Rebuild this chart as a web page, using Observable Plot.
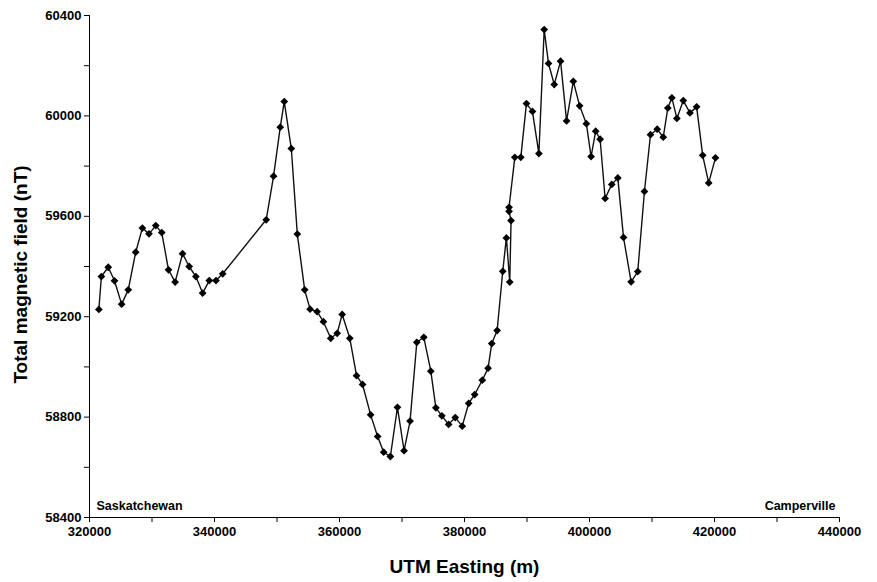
<!DOCTYPE html>
<html>
<head>
<meta charset="utf-8">
<script src="https://cdn.jsdelivr.net/npm/d3@7"></script>
<script src="https://cdn.jsdelivr.net/npm/@observablehq/plot@0.6"></script>
<style>
  html, body { margin: 0; padding: 0; background: #fff; }
  #chart svg { display: block; }
</style>
</head>
<body>
<div id="chart"></div>
<script>
// UTM Easting (m) of each station, in survey order
const easting = [
  321500, 321900, 323000, 324000, 325140, 326200, 327390, 328460, 329520, 330600,
  331560, 332640, 333700, 334890, 335950, 337020, 338100, 339160, 340240, 341310,
  348270, 349450, 350520, 351160, 352290, 353250, 354430, 355290, 356420, 357430,
  358600, 359630, 360430, 361650, 362730, 363690, 364980, 366100, 367070, 368140,
  369270, 370330, 371290, 372370, 373490, 374610, 375420, 376380, 377460, 378520,
  379640, 380670, 381630, 382850, 383770, 384360, 385220, 386120, 386700, 387240,
  387450, 387130, 387130, 388050, 389010, 389910, 390870, 391900, 392750, 393440,
  394360, 395370, 396330, 397410, 398420, 399500, 400250, 400990, 401700, 402500,
  403560, 404530, 405440, 406660, 407720, 408790, 409760, 410830, 411800, 412530,
  413180, 413980, 415010, 416070, 417140, 418110, 419070, 420150
];
// Total magnetic field (nT)
const field = [
  59229, 59360, 59397, 59343, 59250, 59307, 59457, 59553, 59530, 59563,
  59535, 59387, 59338, 59451, 59400, 59360, 59294, 59344, 59344, 59371,
  59586, 59760, 59955, 60057, 59870, 59529, 59307, 59230, 59220, 59180,
  59114, 59134, 59209, 59114, 58965, 58930, 58809, 58723, 58660, 58643,
  58839, 58666, 58784, 59098, 59118, 58983, 58837, 58805, 58771, 58798,
  58764, 58855, 58890, 58947, 58995, 59093, 59145, 59381, 59514, 59338,
  59583, 59620, 59636, 59835, 59835, 60049, 60018, 59850, 60344, 60209,
  60125, 60218, 59980, 60138, 60040, 59969, 59838, 59939, 59907, 59671,
  59727, 59753, 59516, 59339, 59380, 59699, 59925, 59947, 59915, 60031,
  60072, 59990, 60061, 60012, 60036, 59843, 59733, 59833
];
const xTicks = [320000, 330000, 340000, 350000, 360000, 370000, 380000, 390000, 400000, 410000, 420000, 430000, 440000];
const xTickLabels = ["320000", "", "340000", "", "360000", "", "380000", "", "400000", "", "420000", "", "440000"];
const yTicks = [58400, 58600, 58800, 59000, 59200, 59400, 59600, 59800, 60000, 60200, 60400];
const yTickLabels = ["58400", "", "58800", "", "59200", "", "59600", "", "60000", "", "60400"];
const xTitle = "UTM Easting (m)";
const yTitle = "Total magnetic field (nT)";
const leftNote = "Saskatchewan";
const rightNote = "Camperville";

const data = easting.map((x, i) => ({x, y: field[i]}));
const font = "'Liberation Sans', Arial, Helvetica, sans-serif";

const chart = Plot.plot({
  width: 877,
  height: 582,
  marginLeft: 89,
  marginRight: 38,
  marginTop: 15,
  marginBottom: 65,
  style: {fontFamily: font, fontSize: "13px", fontWeight: "bold", color: "#000", background: "#fff"},
  x: {domain: [xTicks[0], xTicks[xTicks.length - 1]]},
  y: {domain: [yTicks[0], yTicks[yTicks.length - 1]]},
  marks: [
    Plot.axisX({ticks: xTicks, tickFormat: d => xTickLabels[xTicks.indexOf(d)], tickSize: 5, tickPadding: 4, label: null, stroke: "#000", strokeOpacity: 1}),
    Plot.axisY({ticks: yTicks, tickFormat: d => yTickLabels[yTicks.indexOf(d)], tickSize: 5, tickPadding: 3, label: null, stroke: "#000", strokeOpacity: 1}),
    Plot.ruleX([xTicks[0]], {stroke: "#000", strokeWidth: 1}),
    Plot.ruleY([yTicks[0]], {stroke: "#000", strokeWidth: 1}),
    Plot.line(data, {x: "x", y: "y", stroke: "#111", strokeWidth: 1.4}),
    Plot.dot(data, {x: "x", y: "y", symbol: "diamond2", r: 3.5, fill: "#000"}),
    Plot.text([leftNote], {text: d => d, frameAnchor: "bottom-left", textAnchor: "start", lineAnchor: "middle", dx: 7, dy: -12, fontSize: 12.5, fontWeight: "bold", fill: "#000"}),
    Plot.text([rightNote], {text: d => d, frameAnchor: "bottom-right", textAnchor: "end", lineAnchor: "middle", dx: -4, dy: -12, fontSize: 12.5, fontWeight: "bold", fill: "#000"}),
    Plot.text([xTitle], {text: d => d, frameAnchor: "bottom", textAnchor: "middle", lineAnchor: "middle", dy: 49, fontSize: 19, fontWeight: "bold", fill: "#000"}),
    Plot.text([yTitle], {text: d => d, frameAnchor: "left", textAnchor: "middle", lineAnchor: "middle", rotate: -90, dx: -69, dy: 8, fontSize: 19, fontWeight: "bold", fill: "#000"})
  ]
});
document.getElementById("chart").appendChild(chart);
</script>
</body>
</html>
